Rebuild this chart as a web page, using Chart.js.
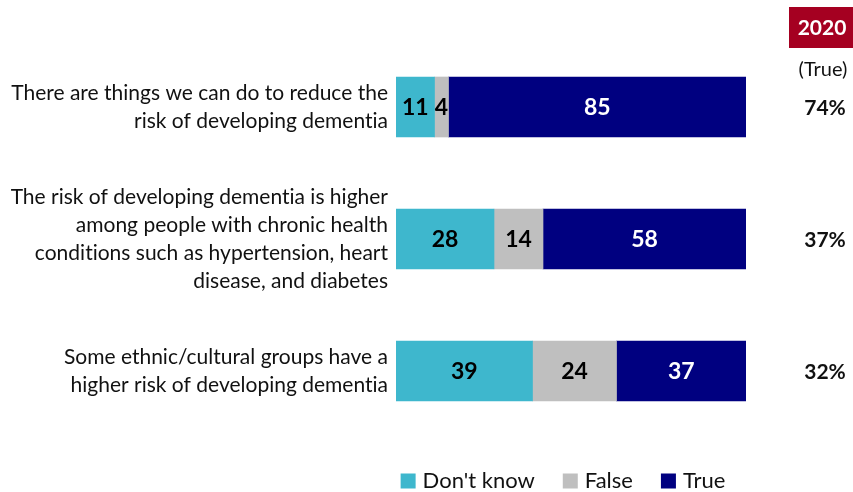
<!DOCTYPE html>
<html>
<head>
<meta charset="utf-8">
<script src="https://cdn.jsdelivr.net/npm/chart.js@4/dist/chart.umd.min.js"></script>
<style>
  html, body { margin: 0; padding: 0; background: #fff; }
  #wrap { width: 853px; height: 492px; position: relative; }
</style>
</head>
<body>
<div id="wrap"><canvas id="chart"></canvas></div>
<script>
const statements = [
    ['There are things we can do to reduce the', 'risk of developing dementia'],
    ['The risk of developing dementia is higher', 'among people with chronic health', 'conditions such as hypertension, heart', 'disease, and diabetes'],
    ['Some ethnic/cultural groups have a', 'higher risk of developing dementia']
];
const dontKnow = [11, 28, 39];
const falseVals = [4, 14, 24];
const trueVals = [85, 58, 37];
const true2020 = [74, 37, 32];
const yearLabel = '2020';
const yearSub = '(True)';

const FONT = 'Lato, "Open Sans", sans-serif';
const colors = { dontKnow: '#3EB7CD', false: '#BFBFBF', true: '#000080' };
const labelColors = ['#000', '#000', '#fff'];

// no "ti" ligatures in the labels
const plainText = {
    id: 'plainText',
    beforeDraw(chart) {
        chart.ctx.textRendering = 'optimizeSpeed';
    }
};

// value labels centred in each segment
const segmentLabels = {
    id: 'segmentLabels',
    afterDatasetsDraw(chart) {
        const ctx = chart.ctx;
        ctx.save();
        ctx.font = 'bold 23px ' + FONT;
        ctx.textAlign = 'center';
        ctx.textBaseline = 'middle';
        chart.data.datasets.forEach((ds, i) => {
            chart.getDatasetMeta(i).data.forEach((bar, j) => {
                const p = bar.getCenterPoint();
                ctx.fillStyle = labelColors[i];
                ctx.fillText(String(ds.data[j]), p.x, p.y + 1);
            });
        });
        ctx.restore();
    }
};

// 2020 column on the right
const compareColumn = {
    id: 'compareColumn',
    afterDraw(chart) {
        const ctx = chart.ctx;
        const y = chart.scales.y;
        const cx = 822;
        ctx.save();
        ctx.fillStyle = '#A50021';
        ctx.fillRect(789, 7, 64, 41);
        ctx.fillStyle = '#fff';
        ctx.font = 'bold 21px ' + FONT;
        ctx.textAlign = 'center';
        ctx.textBaseline = 'middle';
        ctx.fillText(yearLabel, cx, 28);
        ctx.fillStyle = '#111';
        ctx.font = '20px ' + FONT;
        ctx.fillText(yearSub, cx + 1, 70);
        ctx.font = 'bold 21px ' + FONT;
        true2020.forEach((v, i) => {
            ctx.fillText(v + '%', cx + 3, y.getPixelForValue(i) + 1);
        });
        ctx.restore();
    }
};

// legend drawn under the bars, centred on the plot area
const bottomLegend = {
    id: 'bottomLegend',
    afterDraw(chart) {
        const ctx = chart.ctx;
        const area = chart.chartArea;
        const box = 15, gap = 7, spacing = 28;
        ctx.save();
        ctx.font = '22px ' + FONT;
        ctx.textBaseline = 'middle';
        const items = chart.data.datasets.map(ds => ({ text: ds.label, color: ds.backgroundColor }));
        const widths = items.map(it => box + gap + ctx.measureText(it.text).width);
        const total = widths.reduce((a, b) => a + b, 0) + spacing * (items.length - 1);
        let x = (area.left + area.right) / 2 - total / 2 - 8;
        const yc = 481;
        items.forEach((it, i) => {
            ctx.fillStyle = it.color;
            ctx.fillRect(x, yc - box / 2, box, box);
            ctx.fillStyle = '#111';
            ctx.textAlign = 'left';
            ctx.fillText(it.text, x + box + gap, yc);
            x += widths[i] + spacing;
        });
        ctx.restore();
    }
};

new Chart(document.getElementById('chart'), {
    type: 'bar',
    data: {
        labels: statements,
        datasets: [
            { label: "Don't know", data: dontKnow, backgroundColor: colors.dontKnow },
            { label: 'False', data: falseVals, backgroundColor: colors.false },
            { label: 'True', data: trueVals, backgroundColor: colors.true }
        ]
    },
    options: {
        indexAxis: 'y',
        responsive: true,
        maintainAspectRatio: false,
        animation: false,
        layout: { padding: { top: 41, right: 107, bottom: 55, left: 0 } },
        datasets: { bar: { barThickness: 60, borderWidth: 0 } },
        scales: {
            x: { stacked: true, min: 0, max: 100, display: false },
            y: {
                stacked: true,
                grid: { display: false, drawTicks: false },
                border: { display: false },
                afterFit(scale) { scale.width = 396; },
                ticks: {
                    padding: 8,
                    color: '#111',
                    font: { family: FONT, size: 21, lineHeight: 1.33 }
                }
            }
        },
        plugins: {
            legend: { display: false },
            tooltip: { enabled: false }
        }
    },
    plugins: [plainText, segmentLabels, compareColumn, bottomLegend]
});
</script>
</body>
</html>
